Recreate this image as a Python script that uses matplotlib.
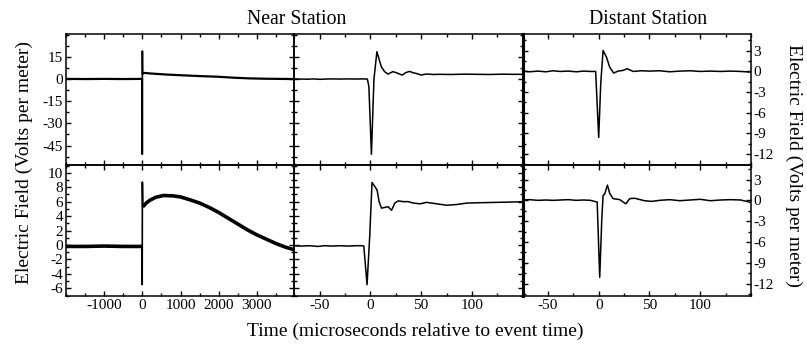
import matplotlib
matplotlib.use("Agg")
import matplotlib.pyplot as plt
from matplotlib.ticker import MultipleLocator, FixedLocator

plt.rcParams['font.family'] = ['Liberation Serif', 'DejaVu Serif']
plt.rcParams['axes.unicode_minus'] = False

# ---------------- data ----------------
# Near station, long record (top: row 1, bottom: row 2)
near_long_t_top = [-2000, -1500, -1000, -500, -20, -3, -1, 1, 5, 30, 200, 600, 1000, 1500, 1950, 2400, 2800, 3250, 3600, 4000]
near_long_v_top = [0.1, 0.0, 0.1, 0.0, 0.1, 0.1, -51, 19, 3.5, 4.2, 3.8, 3.1, 2.6, 2.0, 1.6, 0.9, 0.45, 0.2, 0.1, 0.0]

near_long_t_bot = [-2000, -1500, -1000, -500, -10, -4, 1, 10, 50, 100, 200, 350, 550, 800, 1000, 1250, 1500, 1750, 2000,
                   2250, 2500, 2750, 3000, 3250, 3500, 3750, 4000]
near_long_v_bot = [-0.2, -0.2, -0.15, -0.2, -0.2, -5.5, 8.7, 5.3, 5.5, 5.8, 6.2, 6.6, 6.85, 6.8, 6.65, 6.25, 5.8, 5.2, 4.5,
                   3.7, 2.9, 2.1, 1.4, 0.8, 0.2, -0.3, -0.7]

# Near station, zoomed
near_t_top = [-75, -70, -62, -56, -50, -44, -38, -30, -22, -15, -8, -3, -1.5, 1, 3.5, 6.4, 10.7, 14, 17.3, 22.2, 25.5,
              28.8, 31.4, 34.7, 38.6, 41.9, 45.2, 50.1, 55, 62, 68, 80, 92, 105, 118, 130, 140, 150]
near_v_top = [0.1, 0.0, -0.1, 0.1, -0.2, 0.0, 0.1, 0.0, 0.1, 0.0, 0.1, 0.0, -5, -51, 0, 18.5, 8.4, 5.0, 3.4, 5.0, 4.3,
              3.4, 2.7, 4.3, 5.2, 4.3, 3.8, 2.7, 3.4, 3.1, 3.2, 3.1, 3.3, 3.2, 3.1, 3.3, 3.2, 3.2]

near_t_bot = [-75, -68, -60, -52, -45, -38, -30, -22, -15, -8, -6.5, -3.3, -0.7, 1.6, 4.3, 6.6, 8.6, 10.9, 14.2, 17.5,
              20.8, 24.1, 27.4, 32.4, 37.3, 42.3, 48.9, 55.5, 65.3, 75.2, 85, 95, 108, 124.5, 141, 150]
near_v_bot = [-0.1, -0.15, -0.1, -0.2, -0.1, -0.15, -0.1, -0.15, -0.1, -0.1, -0.15, -5.5, 1.15, 8.66, 8.1, 7.6, 6.0, 5.1,
              5.2, 5.3, 4.8, 5.8, 6.1, 6.0, 6.0, 5.8, 5.7, 5.9, 5.7, 5.5, 5.6, 5.8, 5.85, 5.9, 5.95, 6.0]

# Distant station, zoomed
far_t_top = [-75, -68, -60, -52, -45, -38, -30, -22, -15, -8, -3, 0, 2, 4.3, 7.6, 10.9, 14.8, 19, 24, 28, 34, 42, 50,
             60, 70, 80, 90, 100, 110, 120, 130, 140, 150]
far_v_top = [0.05, -0.05, 0.05, -0.05, 0.1, 0.0, 0.05, -0.05, 0.05, 0.0, 0.0, -9.6, -1.8, 3.05, 2.1, 0.6, -0.24, 0.05,
             0.15, 0.4, 0.0, 0.1, 0.05, 0.1, -0.05, 0.05, 0.1, 0.0, 0.05, 0.0, 0.05, 0.0, -0.1]

far_t_bot = [-75, -68, -60, -52, -45, -38, -30, -22, -15, -8, -1.5, 1.0, 3, 4.3, 5.9, 8.6, 10.9, 14.2, 20.8, 26.7, 30.6,
             35.6, 45, 52, 60, 70, 80, 90, 100, 110, 120, 130, 140, 150]
far_v_bot = [0.05, 0.1, 0.0, 0.05, 0.0, 0.05, 0.1, 0.0, 0.05, 0.0, -0.25, -11.1, -2.9, 0.7, 0.9, 2.2, 1.0, 0.25, 0.1,
             -0.5, 0.25, 0.3, -0.05, -0.15, 0.0, 0.1, -0.05, 0.05, 0.15, -0.05, 0.05, 0.1, 0.05, -0.3]

long_xticks = [-1000, 0, 1000, 2000, 3000]
short_xticks = [-50, 0, 50, 100]
near_top_yticks = [15, 0, -15, -30, -45]
near_bot_yticks = [10, 8, 6, 4, 2, 0, -2, -4, -6]
far_yticks = [3, 0, -3, -6, -9, -12]

# ---------------- layout ----------------
W, H = 807, 346
fig = plt.figure(figsize=(W / 100, H / 100), dpi=100)

x0 = 66.0
pw = 228.3
rows = [(34.3, 165.0), (165.0, 296.0)]


def make_ax(col, row):
    top, bot = rows[row]
    l = (x0 + col * pw) / W
    b = (H - bot) / H
    return fig.add_axes([l, b, pw / W, (bot - top) / H])


axes = [[make_ax(c, r) for c in range(3)] for r in range(2)]

series = [
    [(near_long_t_top, near_long_v_top, 1.6), (near_t_top, near_v_top, 1.1), (far_t_top, far_v_top, 1.1)],
    [(near_long_t_bot, near_long_v_bot, 2.6), (near_t_bot, near_v_bot, 1.1), (far_t_bot, far_v_bot, 1.1)],
]

ylims = [[(-58.2, 30.3), (-58.2, 30.3), (-13.6, 5.4)],
         [(-7.06, 11.07), (-7.06, 11.07), (-13.8, 5.1)]]

for r in range(2):
    for c in range(3):
        ax = axes[r][c]
        t, v, lw = series[r][c]
        if c == 0:
            # thick noisy band before and after the event, thin line for the fast spike
            i0 = next(i for i, tt in enumerate(t) if tt >= -12)
            i1 = next(i for i, tt in enumerate(t) if tt >= 5)
            ax.plot(t[:i0 + 1], v[:i0 + 1], color='black', lw=lw, solid_capstyle='butt')
            ax.plot(t[i0:i1 + 1], v[i0:i1 + 1], color='black', lw=1.2)
            ax.plot(t[i1:], v[i1:], color='black', lw=lw, solid_capstyle='butt')
        else:
            ax.plot(t, v, color='black', lw=lw, solid_joinstyle='round')
        ax.set_ylim(*ylims[r][c])
        if c == 0:
            ax.set_xlim(-2000, 3980)
            ax.xaxis.set_major_locator(FixedLocator(long_xticks))
            ax.xaxis.set_minor_locator(MultipleLocator(500))
        else:
            ax.set_xlim(-75, 150)
            ax.xaxis.set_major_locator(FixedLocator(short_xticks))
            ax.xaxis.set_minor_locator(MultipleLocator(25))
        if c < 2:
            if r == 0:
                ax.yaxis.set_major_locator(FixedLocator(near_top_yticks))
                ax.yaxis.set_minor_locator(MultipleLocator(7.5))
            else:
                ax.yaxis.set_major_locator(FixedLocator(near_bot_yticks))
                ax.yaxis.set_minor_locator(MultipleLocator(1))
        else:
            ax.yaxis.set_major_locator(FixedLocator(far_yticks))
            ax.yaxis.set_minor_locator(MultipleLocator(1.5))
        ax.tick_params(which='both', direction='in', top=True, right=True, width=1.0,
                       labelsize=11, pad=2, colors='black')
        ax.tick_params(which='major', length=3.5)
        ax.tick_params(which='minor', length=2.5)
        ax.tick_params(labelbottom=(r == 1), labelleft=(c == 0), labelright=(c == 2))
        for s in ax.spines.values():
            s.set_linewidth(1.1)
        if c == 1:
            ax.spines['right'].set_linewidth(2.2)
        if c == 2:
            ax.spines['left'].set_linewidth(2.2)
        ax.set_facecolor('none')

fig.text(297 / W, 1 - 19 / H, 'Near Station', ha='center', va='center', fontsize=14.2)
fig.text(648 / W, 1 - 19 / H, 'Distant Station', ha='center', va='center', fontsize=14.2)
fig.text(24 / W, 1 - 163 / H, 'Electric Field (Volts per meter)', rotation=90, ha='center', va='center', fontsize=14)
fig.text(794 / W, 1 - 165 / H, 'Electric Field (Volts per meter)', rotation=270, ha='center', va='center', fontsize=14)
fig.text(415 / W, 1 - 331 / H, 'Time (microseconds relative to event time)', ha='center', va='center', fontsize=14)

fig.savefig('out.png', dpi=100)
